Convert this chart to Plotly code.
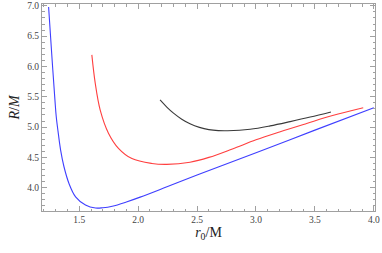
import plotly.graph_objects as go

# Blue curve
blue_x = [1.240, 1.265, 1.294, 1.305, 1.322, 1.342, 1.370, 1.413, 1.469, 1.553, 1.638, 1.700, 1.780, 1.900, 2.017, 2.250, 2.500, 3.006, 3.500, 4.000]
blue_y = [6.98, 6.25, 5.44, 5.17, 4.90, 4.62, 4.35, 4.07, 3.85, 3.715, 3.665, 3.67, 3.695, 3.765, 3.845, 4.02, 4.21, 4.58, 4.95, 5.32]

# Red curve
red_x = [1.607, 1.636, 1.678, 1.748, 1.833, 1.947, 2.116, 2.243, 2.440, 2.600, 2.800, 3.000, 3.200, 3.430, 3.650, 3.910]
red_y = [6.19, 5.72, 5.28, 4.90, 4.65, 4.48, 4.40, 4.385, 4.42, 4.50, 4.64, 4.79, 4.92, 5.06, 5.19, 5.32]

# Black curve
black_x = [2.186, 2.243, 2.300, 2.370, 2.440, 2.520, 2.600, 2.680, 2.760, 2.950, 3.120, 3.290, 3.460, 3.636]
black_y = [5.447, 5.33, 5.23, 5.13, 5.055, 4.995, 4.958, 4.942, 4.940, 4.965, 5.02, 5.09, 5.165, 5.25]

x_ticks = [1.5, 2.0, 2.5, 3.0, 3.5, 4.0]
y_ticks = [4.0, 4.5, 5.0, 5.5, 6.0, 6.5, 7.0]

fig = go.Figure()
for xs, ys, col in [(blue_x, blue_y, "#3f3fff"), (red_x, red_y, "#ff3f3f"), (black_x, black_y, "#3a3a3a")]:
    fig.add_trace(go.Scatter(x=xs, y=ys, mode="lines", line=dict(color=col, width=1.1, shape="spline", smoothing=1.0),
                             showlegend=False, hoverinfo="skip"))

serif = "Times New Roman, Liberation Serif, serif"
axis_common = dict(
    showgrid=False, zeroline=False, showline=True, linecolor="#a0a0a0", linewidth=1,
    mirror="ticks", ticks="inside", ticklen=5, tickcolor="#a0a0a0", tickwidth=1,
    tickfont=dict(family=serif, size=9.5, color="#444444"),
    ticklabeloverflow="allow", automargin=False,
    minor=dict(ticks="inside", ticklen=2.5, tickcolor="#a0a0a0", dtick=0.1, showgrid=False),
)

fig.update_layout(
    width=382, height=253,
    margin=dict(l=42, r=7, t=4, b=42),
    plot_bgcolor="white", paper_bgcolor="white",
    xaxis=dict(range=[1.184, 4.01], tickvals=x_ticks, ticktext=[f"{v:.1f}" for v in x_ticks],
               title=dict(text="<i>r</i><sub>0</sub>/M", font=dict(family=serif, size=14, color="#222222"), standoff=0),
               **axis_common),
    yaxis=dict(range=[3.616, 7.03], tickvals=y_ticks, ticktext=[f"{v:.1f}" for v in y_ticks],
               title=dict(text="<i>R</i>/<i>M</i>", font=dict(family=serif, size=14, color="#222222"), standoff=4),
               **axis_common),
)

fig.write_html("out.html", config={"displayModeBar": False},
               post_script="document.body.style.margin='0';document.body.style.padding='0';")
